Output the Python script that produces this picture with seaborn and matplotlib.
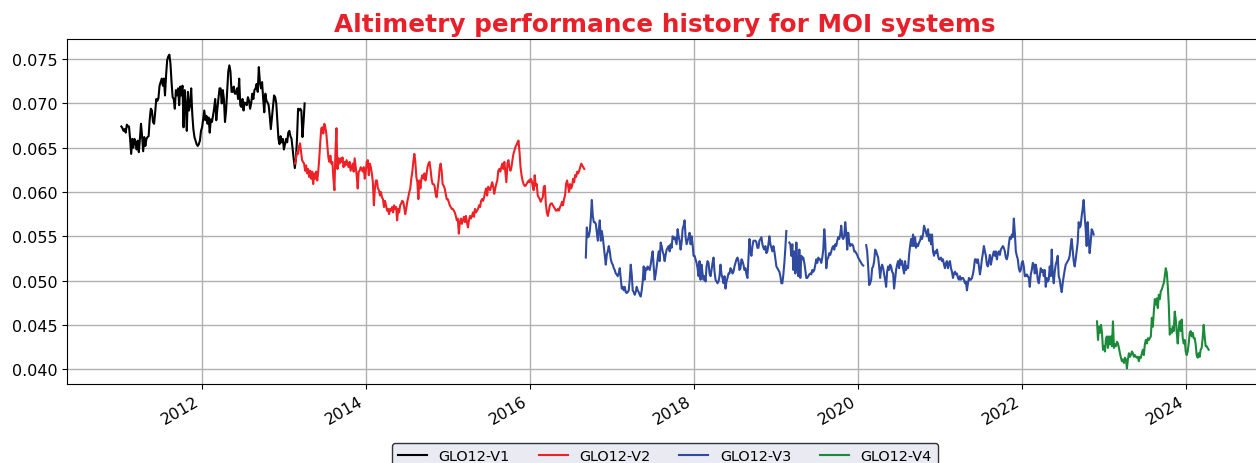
import numpy as np
import pandas as pd
import matplotlib
matplotlib.use("Agg")
import matplotlib.pyplot as plt
import matplotlib.dates as mdates
from matplotlib.ticker import FormatStrFormatter
import seaborn as sns

series_names = ["GLO12-V1", "GLO12-V2", "GLO12-V3", "GLO12-V4"]
series_colors = ["#000000", "#ee2226", "#2f4a9e", "#1b8a3a"]
series_start = ["2011-01-08", "2013-02-19", "2016-09-06", "2022-11-30"]
series_end = ["2013-04-03", "2016-08-30", "2022-11-15", "2024-04-10"]

v1 = [0.0674, 0.0672, 0.0669, 0.0671, 0.0667, 0.0676, 0.0674, 0.0674, 0.0660, 0.0643, 0.0660, 0.0650, 0.0660, 0.0656, 0.0648, 0.0658, 0.0645, 0.0660, 0.0677, 0.0663, 0.0646, 0.0662, 0.0652, 0.0660, 0.0662, 0.0663, 0.0682, 0.0694, 0.0692, 0.0679, 0.0677, 0.0690, 0.0705, 0.0703, 0.0706, 0.0720, 0.0724, 0.0728, 0.0720, 0.0728, 0.0709, 0.0732, 0.0749, 0.0753, 0.0755, 0.0745, 0.0724, 0.0707, 0.0705, 0.0694, 0.0715, 0.0709, 0.0717, 0.0698, 0.0719, 0.0709, 0.0720, 0.0673, 0.0715, 0.0698, 0.0669, 0.0713, 0.0692, 0.0698, 0.0717, 0.0688, 0.0671, 0.0662, 0.0658, 0.0654, 0.0652, 0.0654, 0.0658, 0.0669, 0.0673, 0.0682, 0.0692, 0.0681, 0.0686, 0.0677, 0.0684, 0.0667, 0.0682, 0.0679, 0.0686, 0.0694, 0.0705, 0.0681, 0.0694, 0.0705, 0.0717, 0.0717, 0.0700, 0.0715, 0.0705, 0.0679, 0.0692, 0.0715, 0.0736, 0.0743, 0.0736, 0.0713, 0.0713, 0.0719, 0.0711, 0.0711, 0.0717, 0.0705, 0.0728, 0.0698, 0.0696, 0.0705, 0.0692, 0.0701, 0.0700, 0.0698, 0.0707, 0.0703, 0.0694, 0.0700, 0.0711, 0.0705, 0.0715, 0.0717, 0.0722, 0.0713, 0.0741, 0.0724, 0.0717, 0.0724, 0.0705, 0.0690, 0.0711, 0.0703, 0.0701, 0.0698, 0.0686, 0.0671, 0.0684, 0.0698, 0.0709, 0.0707, 0.0700, 0.0679, 0.0660, 0.0654, 0.0663, 0.0656, 0.0660, 0.0648, 0.0654, 0.0660, 0.0656, 0.0667, 0.0669, 0.0663, 0.0660, 0.0648, 0.0637, 0.0627, 0.0637, 0.0660, 0.0694, 0.0692, 0.0694, 0.0692, 0.0662, 0.0679, 0.0700]

v2 = [0.0632, 0.0638, 0.0645, 0.0643, 0.0651, 0.0655, 0.0645, 0.0636, 0.0634, 0.0632, 0.0624, 0.0630, 0.0621, 0.0626, 0.0617, 0.0624, 0.0615, 0.0623, 0.0609, 0.0621, 0.0615, 0.0623, 0.0613, 0.0623, 0.0638, 0.0656, 0.0672, 0.0673, 0.0666, 0.0677, 0.0673, 0.0666, 0.0653, 0.0639, 0.0634, 0.0641, 0.0632, 0.0634, 0.0615, 0.0602, 0.0645, 0.0672, 0.0626, 0.0638, 0.0632, 0.0638, 0.0634, 0.0639, 0.0628, 0.0634, 0.0630, 0.0636, 0.0632, 0.0628, 0.0634, 0.0624, 0.0628, 0.0632, 0.0623, 0.0638, 0.0628, 0.0619, 0.0604, 0.0623, 0.0624, 0.0628, 0.0626, 0.0623, 0.0628, 0.0615, 0.0623, 0.0634, 0.0636, 0.0619, 0.0632, 0.0628, 0.0621, 0.0611, 0.0585, 0.0604, 0.0613, 0.0613, 0.0604, 0.0602, 0.0596, 0.0600, 0.0594, 0.0592, 0.0583, 0.0590, 0.0585, 0.0579, 0.0581, 0.0575, 0.0581, 0.0579, 0.0583, 0.0577, 0.0585, 0.0581, 0.0583, 0.0568, 0.0581, 0.0577, 0.0585, 0.0587, 0.0590, 0.0589, 0.0583, 0.0575, 0.0581, 0.0589, 0.0594, 0.0600, 0.0604, 0.0615, 0.0623, 0.0634, 0.0643, 0.0634, 0.0617, 0.0611, 0.0592, 0.0613, 0.0604, 0.0615, 0.0619, 0.0615, 0.0621, 0.0613, 0.0619, 0.0628, 0.0632, 0.0634, 0.0626, 0.0615, 0.0609, 0.0609, 0.0607, 0.0598, 0.0594, 0.0604, 0.0613, 0.0626, 0.0632, 0.0624, 0.0609, 0.0607, 0.0604, 0.0598, 0.0592, 0.0592, 0.0589, 0.0585, 0.0583, 0.0581, 0.0581, 0.0579, 0.0577, 0.0573, 0.0568, 0.0570, 0.0553, 0.0566, 0.0570, 0.0564, 0.0568, 0.0572, 0.0566, 0.0573, 0.0566, 0.0560, 0.0568, 0.0573, 0.0570, 0.0573, 0.0577, 0.0572, 0.0581, 0.0577, 0.0579, 0.0581, 0.0585, 0.0583, 0.0590, 0.0592, 0.0590, 0.0594, 0.0600, 0.0604, 0.0596, 0.0606, 0.0604, 0.0602, 0.0607, 0.0611, 0.0606, 0.0598, 0.0604, 0.0609, 0.0613, 0.0624, 0.0626, 0.0623, 0.0628, 0.0632, 0.0626, 0.0634, 0.0623, 0.0611, 0.0632, 0.0636, 0.0628, 0.0624, 0.0628, 0.0636, 0.0643, 0.0647, 0.0651, 0.0653, 0.0656, 0.0658, 0.0645, 0.0628, 0.0619, 0.0613, 0.0609, 0.0607, 0.0607, 0.0609, 0.0611, 0.0613, 0.0611, 0.0615, 0.0613, 0.0607, 0.0602, 0.0619, 0.0607, 0.0609, 0.0596, 0.0594, 0.0592, 0.0589, 0.0592, 0.0594, 0.0606, 0.0607, 0.0587, 0.0577, 0.0573, 0.0579, 0.0585, 0.0587, 0.0587, 0.0585, 0.0583, 0.0581, 0.0579, 0.0579, 0.0581, 0.0579, 0.0583, 0.0585, 0.0589, 0.0585, 0.0592, 0.0596, 0.0609, 0.0613, 0.0607, 0.0600, 0.0609, 0.0604, 0.0607, 0.0615, 0.0611, 0.0619, 0.0617, 0.0623, 0.0621, 0.0624, 0.0628, 0.0632, 0.0630, 0.0628, 0.0626]

v3 = [0.0526, 0.0560, 0.0549, 0.0550, 0.0556, 0.0570, 0.0591, 0.0573, 0.0566, 0.0566, 0.0564, 0.0554, 0.0545, 0.0558, 0.0568, 0.0545, 0.0556, 0.0549, 0.0539, 0.0528, 0.0518, 0.0529, 0.0533, 0.0539, 0.0533, 0.0524, 0.0520, 0.0518, 0.0514, 0.0512, 0.0508, 0.0507, 0.0505, 0.0508, 0.0514, 0.0503, 0.0491, 0.0493, 0.0489, 0.0493, 0.0487, 0.0486, 0.0487, 0.0489, 0.0501, 0.0518, 0.0507, 0.0489, 0.0487, 0.0484, 0.0487, 0.0493, 0.0489, 0.0487, 0.0484, 0.0482, 0.0489, 0.0499, 0.0516, 0.0501, 0.0514, 0.0512, 0.0516, 0.0514, 0.0512, 0.0518, 0.0526, 0.0533, 0.0516, 0.0501, 0.0507, 0.0516, 0.0524, 0.0533, 0.0522, 0.0543, 0.0539, 0.0533, 0.0529, 0.0522, 0.0529, 0.0535, 0.0537, 0.0539, 0.0533, 0.0541, 0.0537, 0.0550, 0.0547, 0.0549, 0.0545, 0.0541, 0.0558, 0.0550, 0.0545, 0.0535, 0.0543, 0.0558, 0.0562, 0.0568, 0.0549, 0.0541, 0.0545, 0.0549, 0.0554, 0.0541, 0.0550, 0.0541, 0.0528, 0.0528, 0.0524, 0.0520, 0.0514, 0.0505, 0.0522, 0.0501, 0.0518, 0.0508, 0.0501, 0.0505, 0.0499, 0.0516, 0.0522, 0.0520, 0.0508, 0.0505, 0.0512, 0.0520, 0.0526, 0.0510, 0.0501, 0.0499, 0.0497, 0.0499, 0.0505, 0.0518, 0.0507, 0.0503, 0.0497, 0.0505, 0.0491, 0.0499, 0.0503, 0.0508, 0.0508, 0.0514, 0.0512, 0.0508, 0.0510, 0.0516, 0.0520, 0.0524, 0.0526, 0.0522, 0.0512, 0.0514, 0.0524, 0.0522, 0.0518, 0.0512, 0.0514, 0.0507, 0.0503, 0.0524, 0.0547, 0.0533, 0.0528, 0.0539, 0.0545, 0.0545, 0.0545, 0.0543, 0.0537, 0.0537, 0.0545, 0.0547, 0.0549, 0.0541, 0.0537, 0.0535, 0.0539, 0.0531, 0.0533, 0.0541, 0.0550, 0.0541, 0.0537, 0.0533, 0.0539, 0.0533, 0.0524, 0.0516, 0.0514, 0.0512, 0.0510, 0.0505, 0.0497, 0.0497, 0.0507, 0.0520, 0.0537, 0.0556,
      np.nan, np.nan,
      0.0543, 0.0541, 0.0528, 0.0541, 0.0512, 0.0533, 0.0508, 0.0543, 0.0516, 0.0505, 0.0535, 0.0503, 0.0528, 0.0524, 0.0526, 0.0520, 0.0512, 0.0503, 0.0503, 0.0505, 0.0507, 0.0508, 0.0507, 0.0512, 0.0510, 0.0512, 0.0518, 0.0524, 0.0520, 0.0526, 0.0524, 0.0524, 0.0520, 0.0526, 0.0535, 0.0558, 0.0543, 0.0514, 0.0524, 0.0526, 0.0531, 0.0529, 0.0533, 0.0537, 0.0539, 0.0535, 0.0541, 0.0539, 0.0545, 0.0549, 0.0547, 0.0552, 0.0562, 0.0549, 0.0547, 0.0550, 0.0566, 0.0554, 0.0535, 0.0554, 0.0543, 0.0539, 0.0541, 0.0541, 0.0539, 0.0533, 0.0533, 0.0531, 0.0529, 0.0526, 0.0524, 0.0522, 0.0520, 0.0518, 0.0517,
      np.nan, np.nan,
      0.0540, 0.0533, 0.0516, 0.0495, 0.0497, 0.0501, 0.0514, 0.0516, 0.0522, 0.0535, 0.0533, 0.0529, 0.0526, 0.0516, 0.0503, 0.0514, 0.0518, 0.0514, 0.0507, 0.0501, 0.0493, 0.0510, 0.0516, 0.0512, 0.0518, 0.0516, 0.0510, 0.0508, 0.0491, 0.0501, 0.0512, 0.0518, 0.0522, 0.0514, 0.0524, 0.0518, 0.0522, 0.0514, 0.0508, 0.0522, 0.0512, 0.0516, 0.0514, 0.0529, 0.0539, 0.0547, 0.0539, 0.0552, 0.0539, 0.0549, 0.0537, 0.0541, 0.0539, 0.0543, 0.0545, 0.0550, 0.0547, 0.0552, 0.0562, 0.0558, 0.0554, 0.0550, 0.0558, 0.0545, 0.0552, 0.0541, 0.0552, 0.0533, 0.0528, 0.0533, 0.0531, 0.0535, 0.0528, 0.0524, 0.0524, 0.0526, 0.0522, 0.0524, 0.0518, 0.0514, 0.0520, 0.0522, 0.0514, 0.0520, 0.0522, 0.0514, 0.0510, 0.0503, 0.0508, 0.0510, 0.0507, 0.0508, 0.0503, 0.0501, 0.0505, 0.0501, 0.0503, 0.0503, 0.0501, 0.0497, 0.0499, 0.0489, 0.0497, 0.0503, 0.0501, 0.0501, 0.0503, 0.0507, 0.0514, 0.0524, 0.0524, 0.0520, 0.0524, 0.0516, 0.0507, 0.0514, 0.0524, 0.0531, 0.0539, 0.0533, 0.0528, 0.0518, 0.0516, 0.0522, 0.0529, 0.0518, 0.0524, 0.0529, 0.0533, 0.0528, 0.0533, 0.0524, 0.0531, 0.0533, 0.0529, 0.0535, 0.0537, 0.0539, 0.0537, 0.0533, 0.0526, 0.0524, 0.0529, 0.0541, 0.0549, 0.0547, 0.0552, 0.0549, 0.0570, 0.0554, 0.0533, 0.0528, 0.0524, 0.0514, 0.0510, 0.0512, 0.0520, 0.0522, 0.0516, 0.0505, 0.0505, 0.0507, 0.0505, 0.0503, 0.0493, 0.0507, 0.0512, 0.0520, 0.0518, 0.0508, 0.0518, 0.0512, 0.0501, 0.0497, 0.0505, 0.0514, 0.0510, 0.0512, 0.0505, 0.0512, 0.0493, 0.0503, 0.0499, 0.0501, 0.0516, 0.0505, 0.0535, 0.0508, 0.0497, 0.0510, 0.0518, 0.0522, 0.0528, 0.0505, 0.0501, 0.0493, 0.0487, 0.0497, 0.0505, 0.0512, 0.0518, 0.0520, 0.0522, 0.0524, 0.0528, 0.0539, 0.0547, 0.0535, 0.0522, 0.0516, 0.0524, 0.0533, 0.0543, 0.0566, 0.0560, 0.0562, 0.0573, 0.0581, 0.0591, 0.0573, 0.0558, 0.0539, 0.0566, 0.0547, 0.0531, 0.0543, 0.0558, 0.0556, 0.0552]

v4 = [0.0454, 0.0433, 0.0448, 0.0441, 0.0450, 0.0441, 0.0422, 0.0426, 0.0420, 0.0435, 0.0437, 0.0424, 0.0437, 0.0428, 0.0437, 0.0426, 0.0454, 0.0424, 0.0428, 0.0426, 0.0431, 0.0429, 0.0424, 0.0418, 0.0413, 0.0409, 0.0411, 0.0407, 0.0413, 0.0411, 0.0401, 0.0411, 0.0418, 0.0414, 0.0416, 0.0420, 0.0418, 0.0414, 0.0416, 0.0414, 0.0413, 0.0414, 0.0409, 0.0414, 0.0413, 0.0418, 0.0422, 0.0416, 0.0428, 0.0433, 0.0429, 0.0435, 0.0433, 0.0435, 0.0437, 0.0458, 0.0448, 0.0465, 0.0479, 0.0473, 0.0480, 0.0469, 0.0484, 0.0479, 0.0488, 0.0490, 0.0494, 0.0497, 0.0505, 0.0514, 0.0509, 0.0494, 0.0473, 0.0439, 0.0445, 0.0441, 0.0448, 0.0443, 0.0465, 0.0456, 0.0441, 0.0429, 0.0446, 0.0454, 0.0443, 0.0456, 0.0435, 0.0429, 0.0433, 0.0420, 0.0416, 0.0420, 0.0429, 0.0441, 0.0443, 0.0437, 0.0441, 0.0435, 0.0435, 0.0428, 0.0416, 0.0413, 0.0418, 0.0414, 0.0422, 0.0424, 0.0435, 0.0450, 0.0437, 0.0426, 0.0426, 0.0424, 0.0422]

series_values = [v1, v2, v3, v4]

plt.rcParams["font.family"] = ["DejaVu Sans"]
fig = plt.figure(figsize=(12.56, 4.64), dpi=100)
ax = fig.add_axes([67 / 1256, 79 / 464, 1196 / 1256, 345 / 464])

for name, color, start, end, vals in zip(series_names, series_colors, series_start, series_end, series_values):
    df = pd.DataFrame({"date": pd.date_range(start, end, periods=len(vals)),
                       "value": np.asarray(vals, dtype=float)})
    seg_id = df["value"].isna().cumsum()
    valid = df["value"].notna()
    first = True
    for _, g in df[valid].groupby(seg_id[valid]):
        sns.lineplot(data=g, x="date", y="value", ax=ax, color=color, linewidth=1.5,
                     estimator=None, sort=False, label=name if first else "_nolegend_")
        first = False

handles, labels = ax.get_legend_handles_labels()
if ax.get_legend() is not None:
    ax.get_legend().remove()

ax.set_xlabel("")
ax.set_ylabel("")
ax.grid(True, color="#b0b0b0", linewidth=1.0)
ax.set_axisbelow(True)
ax.xaxis.set_major_locator(mdates.YearLocator(2))
ax.xaxis.set_major_formatter(mdates.DateFormatter("%Y"))
ax.yaxis.set_major_formatter(FormatStrFormatter("%.3f"))
ax.tick_params(labelsize=11.5)
plt.setp(ax.get_xticklabels(), rotation=30, ha="right")
ax.set_title("Altimetry performance history for MOI systems", color="#e8202a",
             fontsize=17.8, fontweight="bold")

leg = fig.legend(handles, labels, loc="upper center", bbox_to_anchor=(665 / 1256, 20 / 464),
                 ncol=4, fontsize=10.4, frameon=True, facecolor="#eaeaf2", edgecolor="#333333",
                 framealpha=1.0, borderaxespad=0)

fig.savefig("out.png", dpi=100)
